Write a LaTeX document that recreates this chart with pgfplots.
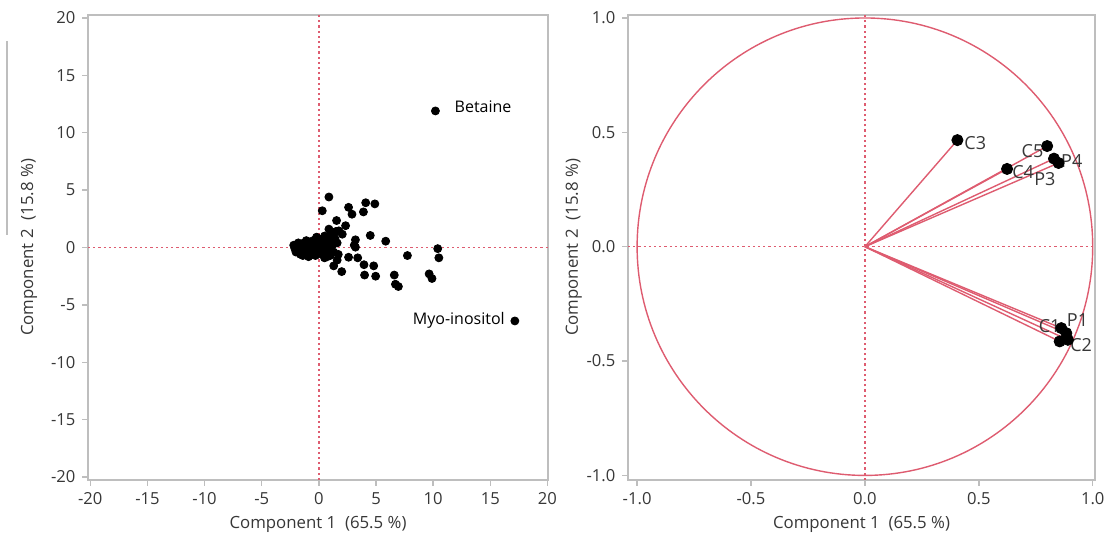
\documentclass[border=0pt]{standalone}
\usepackage{fontspec}
\setmainfont{Open Sans}
\usepackage{pgfplots}
\pgfplotsset{compat=1.18}
\definecolor{pinkred}{RGB}{222,92,112}
\definecolor{axgray}{RGB}{190,190,190}
\definecolor{txtgray}{RGB}{55,55,55}
\pgfplotsset{
  pcastyle/.style={
    scale only axis,
    width=230pt, height=232.5pt,
    axis line style={axgray, line width=0.7pt},
    tick style={axgray, line width=0.7pt},
    tick align=outside,
    major tick length=2.8pt,
    xtick pos=bottom, ytick pos=left,
    ticklabel style={font=\fontsize{8.3}{9}\selectfont, text=txtgray},
    label style={font=\fontsize{8.4}{9}\selectfont, text=txtgray},
    /pgf/number format/assume math mode=true,
    clip=false,
  },
  zeroline/.style={pinkred, line width=0.75pt, dash pattern=on 1.1pt off 1.5pt},
}
\begin{document}
\begin{tikzpicture}
\useasboundingbox (0,0) rectangle (555pt,268.5pt);
\draw[axgray, line width=0.6pt] (3.5pt,248pt) -- (3.5pt,151pt);
% ---------------- Score plot ----------------
\begin{axis}[pcastyle,
  at={(44pt,28.5pt)}, anchor=south west,
  xmin=-20.2, xmax=20.05, ymin=-20.26, ymax=20.26,
  xtick={-20,-15,...,20}, ytick={-20,-15,...,20},
  xlabel={Component 1\ \ (65.5 \%)},
  ylabel={Component 2\ \ (15.8 \%)},
  xlabel style={yshift=1pt},
  ylabel style={yshift=0pt},
]
\addplot[zeroline] coordinates {(0,-20.26) (0,20.26)};
\addplot[zeroline] coordinates {(-20.2,0) (20.05,0)};
\addplot[only marks, mark=*, mark size=2pt, black] coordinates {
(10.2,11.9) (17.15,-6.4)
(0.88,4.4) (0.3,3.2) (2.6,3.5) (2.9,2.9) (4.1,3.9) (3.9,3.1) (4.9,3.8)
(1.55,2.35) (2.34,1.9) (1.75,1.45) (0.88,1.6) (1.17,1.16) (2.05,1.16) (0.58,0.87)
(4.5,1.05) (5.85,0.55) (3.2,0.67) (3.1,0.2) (3.2,0.03)
(10.4,-0.1) (10.5,-0.9) (7.75,-0.7)
(0.73,-0.8) (1.6,-1.1) (1.3,-1.6) (2.0,-2.1) (2.6,-0.85) (3.4,-0.9)
(3.95,-1.5) (4.8,-1.6) (4.0,-2.4) (4.97,-2.5)
(6.6,-2.4) (6.7,-3.2) (6.96,-3.4) (9.65,-2.3) (9.9,-2.7)
(-2.1,-0.1) (-1.9,0.1) (-1.8,-0.3) (-1.7,0.2) (-1.6,-0.1) (-1.5,0.3) (-1.5,-0.4)
(-1.4,0.0) (-1.3,-0.2) (-1.3,0.4) (-1.2,0.1) (-1.2,-0.5) (-1.1,-0.1) (-1.0,0.2)
(-1.0,-0.3) (-0.9,0.5) (-0.9,0.0) (-0.8,-0.2) (-0.8,-0.6) (-0.7,0.3) (-0.7,0.1)
(-0.6,-0.1) (-0.6,-0.4) (-0.5,0.6) (-0.5,0.2) (-0.4,0.0) (-0.4,-0.3) (-0.3,0.4)
(-0.3,-0.7) (-0.2,0.1) (-0.2,-0.2) (-0.1,0.8) (-0.1,0.3) (0.0,-0.1) (0.0,-0.5)
(0.1,0.5) (0.1,0.2) (0.2,-0.3) (0.2,0.0) (0.3,0.7) (0.3,-0.6) (0.4,0.3) (0.4,-0.1)
(0.5,1.0) (0.5,-0.9) (0.6,0.5) (0.6,0.1) (0.7,-0.4) (0.8,0.9) (0.8,0.3) (0.9,-0.2)
(1.0,0.6) (1.0,-0.7) (1.1,1.2) (1.2,0.2) (1.3,-0.4) (1.4,0.8) (1.5,1.4) (1.6,0.4)
(1.7,-0.6) (-1.6,-0.6) (-2.0,-0.4) (-1.1,0.6) (-0.2,0.9)
(-1.8,0.4) (-1.4,-0.7) (-0.9,-0.8) (-0.5,-0.6) (-2.2,0.2) (-0.3,0.6) (0.2,0.4)
};
\node[anchor=west, font=\fontsize{8}{9}\selectfont, text=black, inner sep=0pt] at (axis cs:11.85,12.3) {Betaine};
\node[anchor=east, font=\fontsize{8}{9}\selectfont, text=black, inner sep=0pt] at (axis cs:16.3,-6.36) {Myo-inositol};
\end{axis}
% ---------------- Loading plot ----------------
\begin{axis}[pcastyle,
  at={(314pt,28.5pt)}, anchor=south west,
  width=233.5pt,
  xmin=-1.04, xmax=1.01, ymin=-1.02, ymax=1.013,
  xtick={-1,-0.5,0,0.5,1}, xticklabels={-1.0,-0.5,0.0,0.5,1.0},
  ytick={-1,-0.5,0,0.5,1}, yticklabels={-1.0,-0.5,0.0,0.5,1.0},
  xlabel={Component 1\ \ (65.5 \%)},
  ylabel={Component 2\ \ (15.8 \%)},
  xlabel style={yshift=1pt},
  ylabel style={yshift=-4.5pt},
]
\addplot[zeroline] coordinates {(0,-1.02) (0,1.013)};
\addplot[zeroline] coordinates {(-1.04,0) (1.01,0)};
\draw[pinkred, line width=0.7pt] (axis cs:0,0) ellipse [x radius=1, y radius=1];
\addplot[pinkred, line width=0.7pt, quiver={u=\thisrow{u}, v=\thisrow{v}}] table {
x y u v
0 0 0.406 0.466
0 0 0.800 0.440
0 0 0.830 0.385
0 0 0.850 0.366
0 0 0.624 0.340
0 0 0.862 -0.356
0 0 0.884 -0.378
0 0 0.855 -0.414
0 0 0.891 -0.407
};
\addplot[only marks, mark=*, mark size=2.8pt, black] table {
x y
0.406 0.466
0.800 0.440
0.830 0.385
0.850 0.366
0.624 0.340
0.862 -0.356
0.884 -0.378
0.855 -0.414
0.891 -0.407
};
\tikzset{lbl/.style={font=\fontsize{9}{10}\selectfont, text=txtgray, inner sep=0pt}}
\node[lbl, anchor=west] at (axis cs:0.435,0.455) {C3};
\node[lbl, anchor=east] at (axis cs:0.785,0.42) {C5};
\node[lbl, anchor=west] at (axis cs:0.86,0.375) {P4};
\node[lbl, anchor=west] at (axis cs:0.645,0.325) {C4};
\node[lbl, anchor=north] at (axis cs:0.79,0.325) {P3};
\node[lbl, anchor=east] at (axis cs:0.86,-0.345) {C1};
\node[lbl, anchor=south west] at (axis cs:0.885,-0.35) {P1};
\node[lbl, anchor=west] at (axis cs:0.9,-0.43) {C2};
\end{axis}
\end{tikzpicture}
\end{document}
